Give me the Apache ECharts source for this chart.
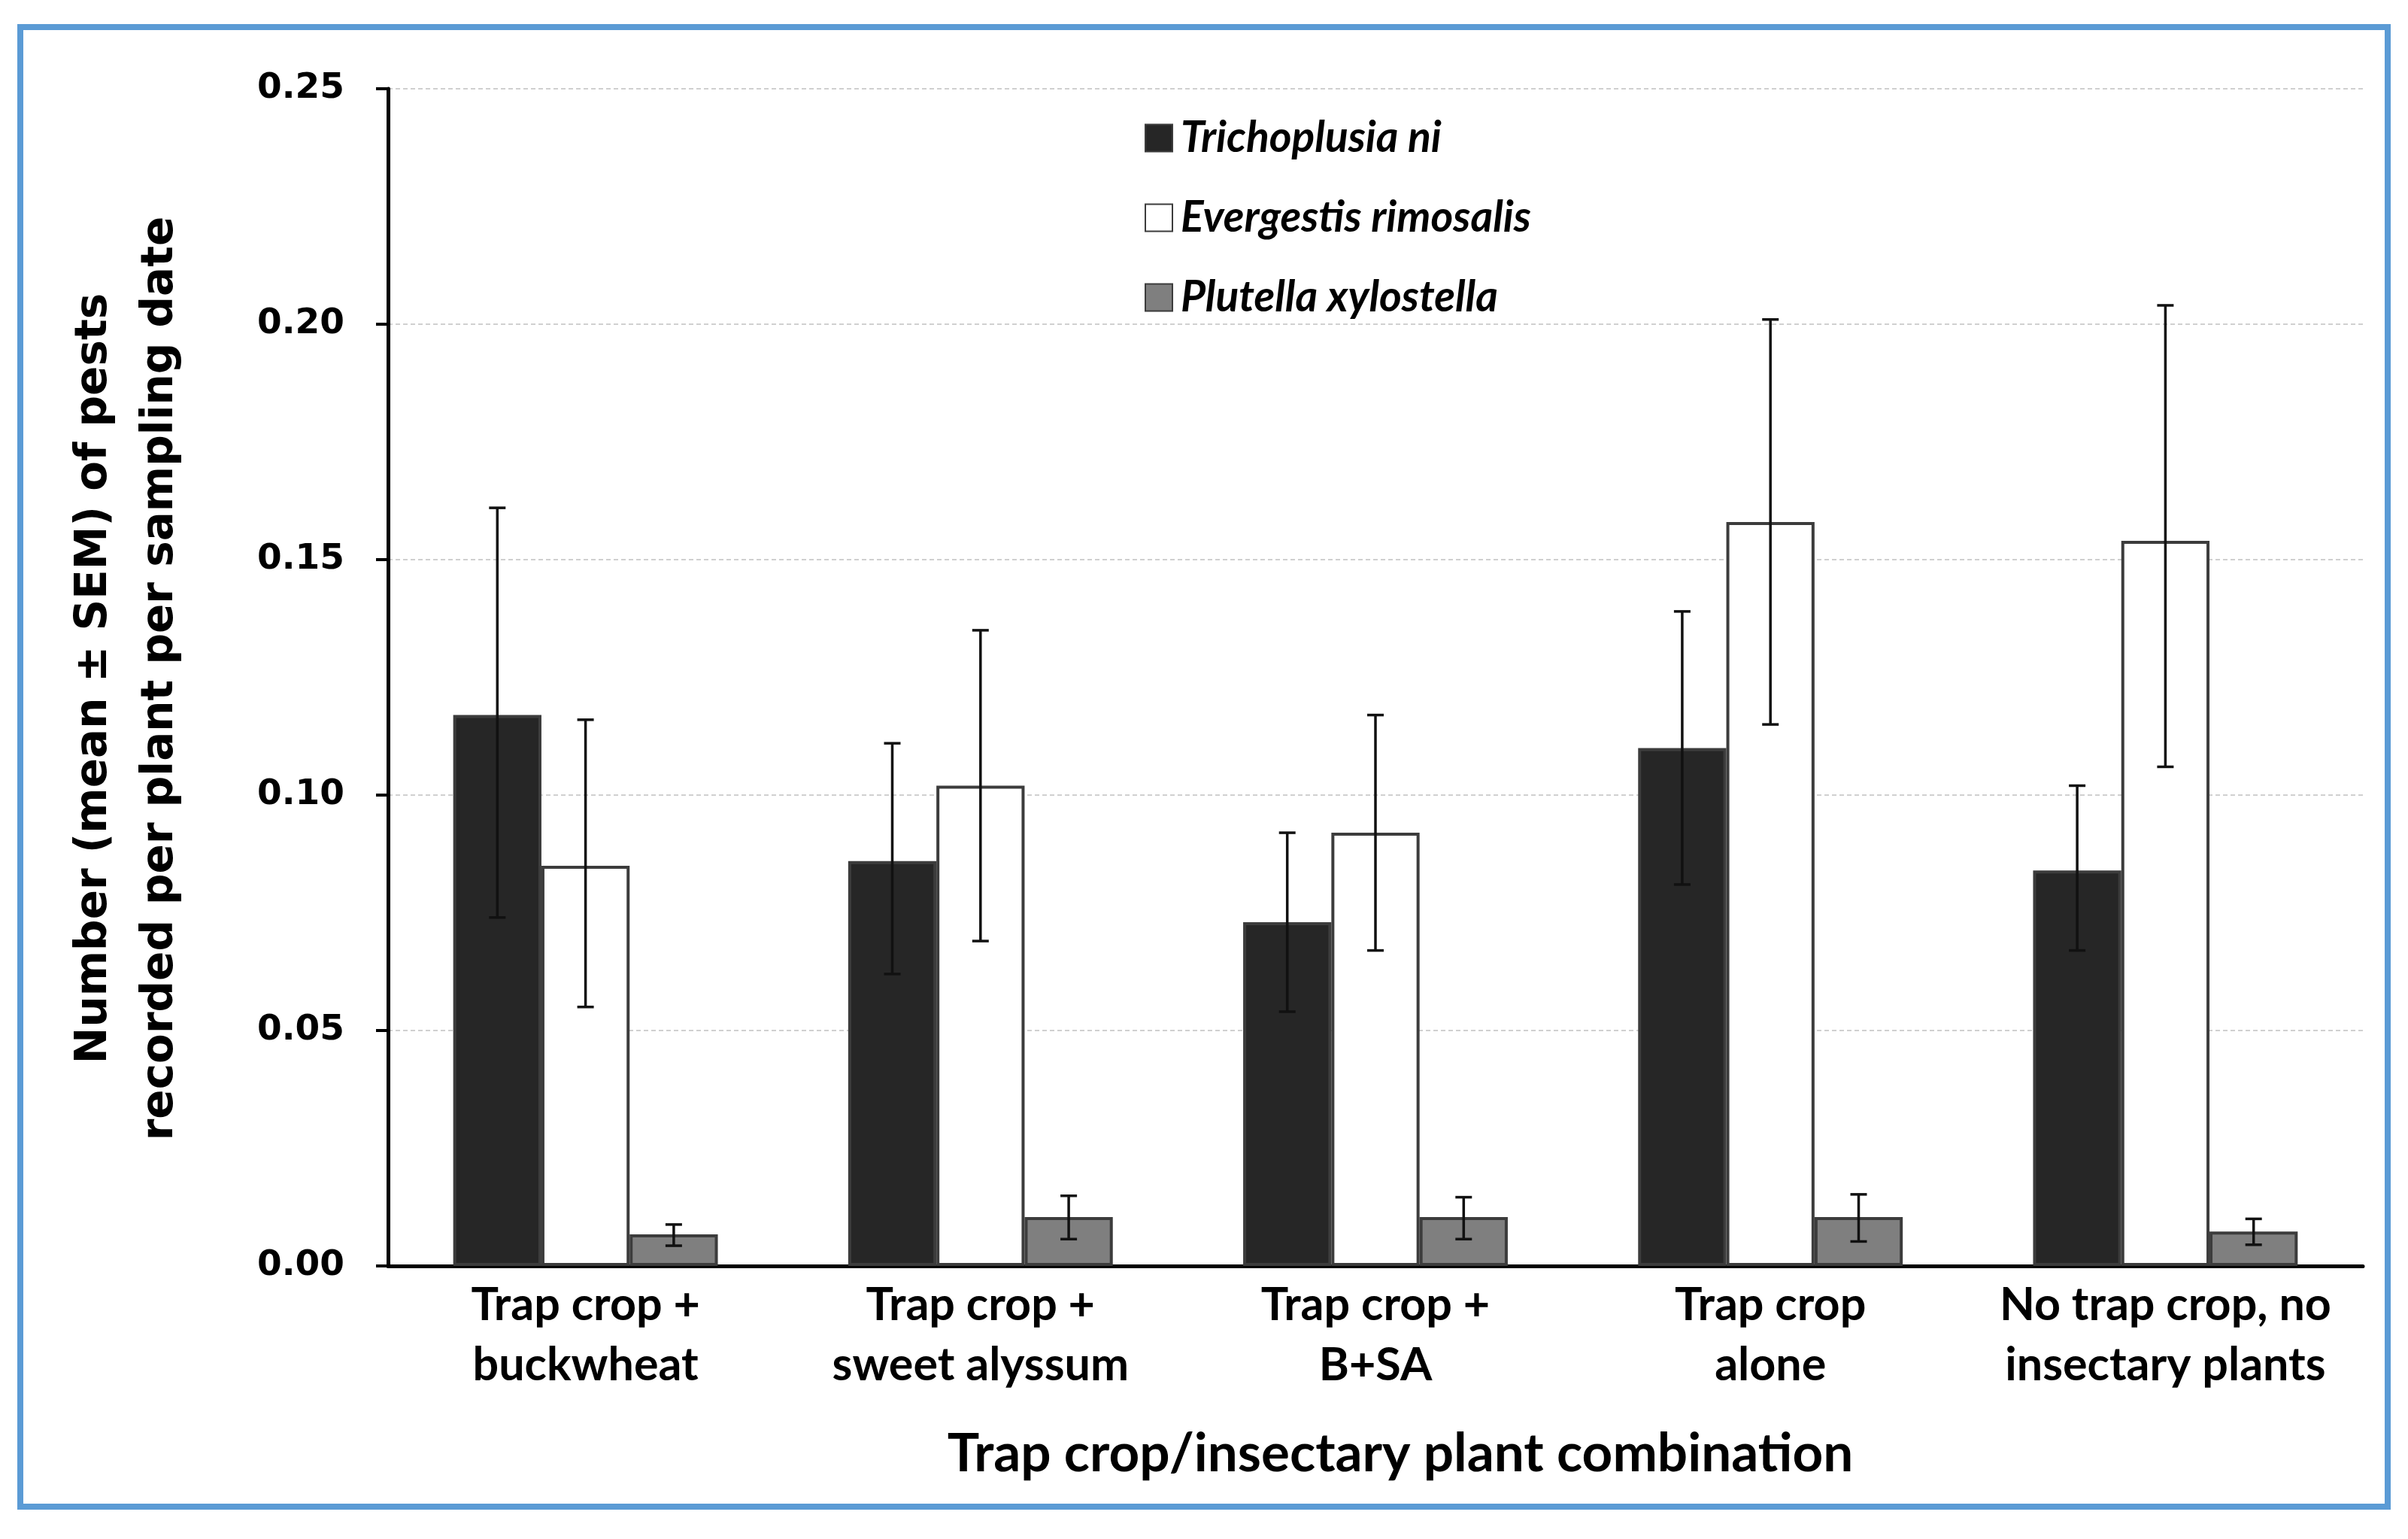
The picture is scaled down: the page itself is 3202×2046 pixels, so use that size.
<!DOCTYPE html>
<html>
<head>
<meta charset="utf-8">
<title>Pests per plant</title>
<script src="https://cdn.jsdelivr.net/npm/echarts@6/dist/echarts.min.js"></script>
<style>
  html, body { margin: 0; padding: 0; background: #fff; }
  #chart { width: 3202px; height: 2046px; }
</style>
</head>
<body>
<div id="chart"></div>
<script>
// categories (x axis)
var categories = [
    'Trap crop +\nbuckwheat',
    'Trap crop +\nsweet alyssum',
    'Trap crop +\nB+SA',
    'Trap crop\nalone',
    'No trap crop, no\ninsectary plants'
];
var seriesNames = ['Trichoplusia ni', 'Evergestis rimosalis', 'Plutella xylostella'];

// means
var tniMean = [0.117, 0.086, 0.073, 0.110, 0.084];
var eriMean = [0.085, 0.102, 0.092, 0.158, 0.154];
var pxyMean = [0.0067, 0.0104, 0.0104, 0.0104, 0.0073];

// error bar ends (mean + SEM, mean - SEM)
var tniHigh = [0.161, 0.111, 0.092, 0.139, 0.102];
var tniLow  = [0.074, 0.062, 0.054, 0.081, 0.067];
var eriHigh = [0.116, 0.135, 0.117, 0.201, 0.204];
var eriLow  = [0.055, 0.069, 0.067, 0.115, 0.106];
var pxyHigh = [0.0088, 0.0149, 0.0146, 0.0152, 0.0100];
var pxyLow  = [0.0043, 0.0057, 0.0057, 0.0052, 0.0045];

var yTicks = [0, 0.05, 0.10, 0.15, 0.20, 0.25];

var catGap = 0.33;

function errData(high, low) {
    return high.map(function (h, i) { return [i, h, low[i]]; });
}

// draws error bars for series at position "slot" (-1, 0, 1) inside a category
function errRenderer(slot) {
    return function (params, api) {
        var i = api.value(0);
        var top = api.coord([i, api.value(1)]);
        var bot = api.coord([i, api.value(2)]);
        var band = api.size([1, 0])[0];
        var bw = band * (1 - catGap) / 3;
        var x = top[0] + slot * bw;
        var cap = 11;
        var st = { stroke: '#111', lineWidth: 3.5 };
        return {
            type: 'group',
            children: [
                { type: 'line', shape: { x1: x, y1: top[1], x2: x, y2: bot[1] }, style: st },
                { type: 'line', shape: { x1: x - cap, y1: top[1], x2: x + cap, y2: top[1] }, style: st },
                { type: 'line', shape: { x1: x - cap, y1: bot[1], x2: x + cap, y2: bot[1] }, style: st }
            ]
        };
    };
}

var myChart = echarts.init(document.getElementById('chart'));
myChart.setOption({
    animation: false,
    backgroundColor: '#fff',
    grid: { left: 516, right: 60, top: 118, bottom: 363 },
    legend: {
        data: seriesNames,
        orient: 'vertical',
        left: 1517,
        top: 150,
        itemWidth: 36,
        itemHeight: 36,
        itemGap: 49,
        icon: 'rect',
        textStyle: {
            fontFamily: 'Lato',
            fontStyle: 'italic',
            fontWeight: 'bold',
            fontSize: 57,
            color: '#000',
            padding: [0, 0, 0, 6]
        }
    },
    xAxis: {
        type: 'category',
        data: categories,
        axisLine: { lineStyle: { color: '#000', width: 5 } },
        axisTick: { inside: true, length: 10, lineStyle: { color: '#000', width: 4 } },
        axisLabel: {
            interval: 0,
            margin: 12,
            fontFamily: 'Lato',
            fontWeight: 'bold',
            fontSize: 61,
            lineHeight: 80,
            color: '#000'
        },
        splitLine: { show: false }
    },
    yAxis: {
        type: 'value',
        min: 0,
        max: 0.25,
        interval: 0.05,
        axisLine: { show: true, lineStyle: { color: '#000', width: 5 } },
        axisTick: { show: true, inside: false, length: 16, lineStyle: { color: '#000', width: 4 } },
        axisLabel: {
            margin: 58,
            fontFamily: 'DejaVu Sans',
            fontWeight: 'bold',
            fontSize: 47,
            color: '#000',
            formatter: function (v) {
                var t = yTicks.filter(function (k) { return Math.abs(k - v) < 1e-9; });
                return (t.length ? t[0] : v).toFixed(2);
            }
        },
        splitLine: { show: true, lineStyle: { color: '#d0d0d0', width: 2, type: [6, 4] } }
    },
    graphic: [
        {
            type: 'rect',
            shape: { x: 27, y: 36, width: 3148, height: 1967 },
            style: { fill: 'none', stroke: '#5B9BD5', lineWidth: 8 },
            silent: true
        },
        {
            type: 'text',
            x: 170,
            y: 902,
            rotation: Math.PI / 2,
            style: {
                text: 'Number (mean \u00b1 SEM) of pests\nrecorded per plant per sampling date',
                fontFamily: 'DejaVu Sans',
                fontWeight: 'bold',
                fontSize: 58,
                lineHeight: 88,
                fill: '#000',
                textAlign: 'center',
                textVerticalAlign: 'middle'
            }
        },
        {
            type: 'text',
            x: 1862,
            y: 1933,
            style: {
                text: 'Trap crop/insectary plant combination',
                fontFamily: 'Lato',
                fontWeight: 'bold',
                fontSize: 71,
                fill: '#000',
                textAlign: 'center',
                textVerticalAlign: 'middle'
            }
        }
    ],
    series: [
        {
            name: seriesNames[0], type: 'bar', data: tniMean,
            barGap: '0%', barCategoryGap: (catGap * 100) + '%',
            itemStyle: { color: '#262626', borderColor: '#3c3c3c', borderWidth: 4 }
        },
        {
            name: seriesNames[1], type: 'bar', data: eriMean,
            itemStyle: { color: '#ffffff', borderColor: '#3c3c3c', borderWidth: 4 }
        },
        {
            name: seriesNames[2], type: 'bar', data: pxyMean,
            itemStyle: { color: '#7f7f7f', borderColor: '#3c3c3c', borderWidth: 4 }
        },
        { type: 'custom', z: 10, renderItem: errRenderer(-1), data: errData(tniHigh, tniLow) },
        { type: 'custom', z: 10, renderItem: errRenderer(0), data: errData(eriHigh, eriLow) },
        { type: 'custom', z: 10, renderItem: errRenderer(1), data: errData(pxyHigh, pxyLow) }
    ]
});
</script>
</body>
</html>
